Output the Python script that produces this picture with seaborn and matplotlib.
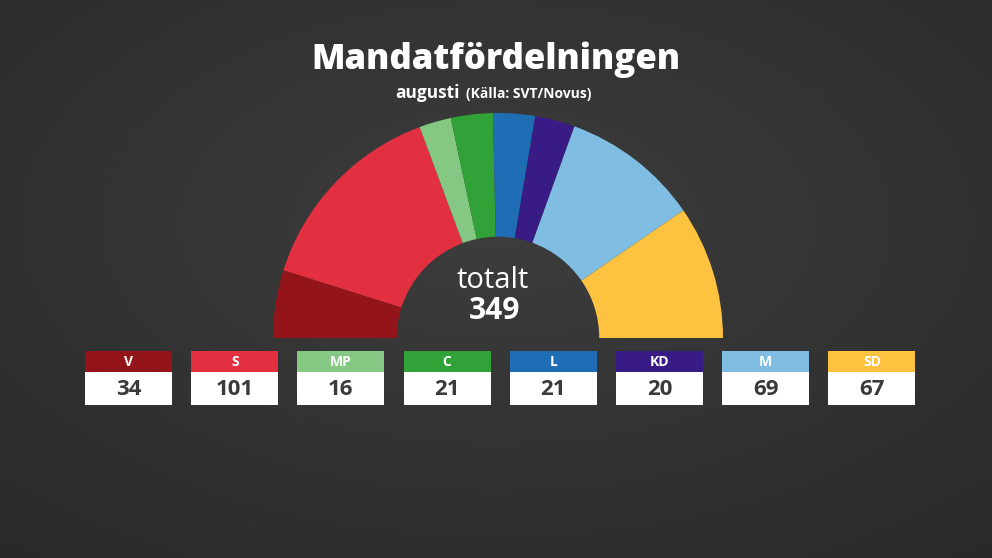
import numpy as np
import pandas as pd
import matplotlib.pyplot as plt
import seaborn as sns
from matplotlib.patches import Rectangle

# seats per party, august poll (SVT/Novus)
parties = ["V", "S", "MP", "C", "L", "KD", "M", "SD"]
seats = [34, 101, 16, 21, 21, 20, 69, 67]
colors = ["#931419", "#e23041", "#84c883", "#30a237", "#1f6db4", "#381b84", "#7fbde2", "#fdc240"]
total = sum(seats)

df = pd.DataFrame({"party": parties, "seats": seats, "color": colors})

sns.set_theme(style="dark")
plt.rcParams["font.family"] = ["Open Sans", "DejaVu Sans"]

W, H = 992, 558
fig = plt.figure(figsize=(W / 100, H / 100), dpi=100)

# background: dark grey, lighter in the middle
bg = fig.add_axes([0, 0, 1, 1])
yy, xx = np.mgrid[0:H, 0:W]
d = np.sqrt(((xx - W / 2) / W) ** 2 + ((yy - H * 0.4) / H) ** 2)
shade = 0.24 - 0.1 * d
bg.imshow(np.dstack([shade, shade, shade]), extent=[0, W, H, 0], aspect="auto")
bg.set_xlim(0, W)
bg.set_ylim(H, 0)
bg.axis("off")

# half donut: centre (498, 338) px, outer radius 225 px
cx, cy, r = 498, 338, 225
pie_ax = fig.add_axes([(cx - r) / W, (H - cy - r) / H, 2 * r / W, 2 * r / H])
vals = df["seats"].tolist() + [total]
cols = df["color"].tolist() + ["none"]
pie_ax.pie(vals, colors=cols, startangle=180, counterclock=False, radius=1,
           wedgeprops=dict(width=0.55, linewidth=0))
pie_ax.set_xlim(-1, 1)
pie_ax.set_ylim(-1, 1)
pie_ax.axis("off")

# titles
bg.text(cx - 2, 60, "Mandatfördelningen", color="white", fontsize=25, fontweight="heavy",
        ha="center", va="center")
bg.text(cx - 38, 93, "augusti", color="white", fontsize=12.5, fontweight="bold",
        ha="right", va="center")
bg.text(cx - 32, 94, "(Källa: SVT/Novus)", color="white", fontsize=10, fontweight="bold",
        ha="left", va="center")

bg.text(cx - 5, 280, "totalt", color="white", fontsize=21, ha="center", va="center")
bg.text(cx - 4, 311, str(total), color="white", fontsize=21.5, fontweight="bold",
        ha="center", va="center")

# party boxes
x0, step, bw = 85, 106.2, 87
top, strip, bottom = 351, 21, 405
for i, row in df.iterrows():
    x = x0 + i * step
    bg.add_patch(Rectangle((x, top), bw, strip, color=row["color"], lw=0))
    bg.add_patch(Rectangle((x, top + strip), bw, bottom - top - strip, color="white", lw=0))
    bg.text(x + bw / 2, top + strip / 2 + 1, row["party"], color="white", fontsize=10,
            fontweight="bold", ha="center", va="center")
    bg.text(x + bw / 2, (top + strip + bottom) / 2 + 1, str(row["seats"]), color="#3a3a3a",
            fontsize=16, fontweight="bold", ha="center", va="center")

fig.savefig("out.png", dpi=100)
